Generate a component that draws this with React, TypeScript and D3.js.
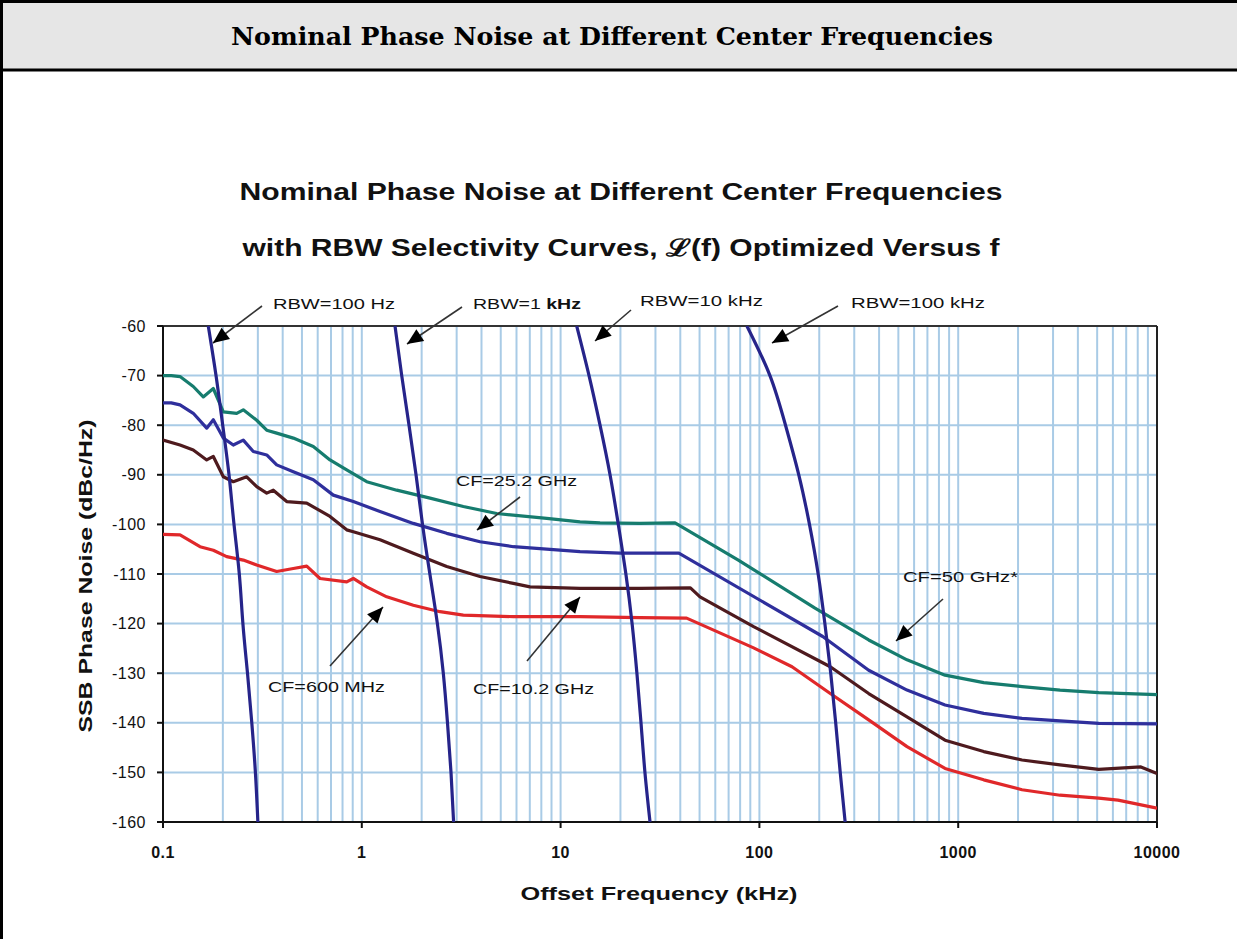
import React from 'react';
import * as d3 from 'd3';

// ---------- DATA ----------
const X_TICK_VALUES = [0.1, 1, 10, 100, 1000, 10000];
const X_TICK_LABELS = ['0.1', '1', '10', '100', '1000', '10000'];
const Y_TICK_VALUES = [-60, -70, -80, -90, -100, -110, -120, -130, -140, -150, -160];
const Y_TICK_LABELS = ['-60', '-70', '-80', '-90', '-100', '-110', '-120', '-130', '-140', '-150', '-160'];

// [offset frequency kHz, dBc/Hz]
const CF_50GHZ: [number, number][] = [
  [0.1, -70], [0.11, -70], [0.1218, -70.2], [0.142, -72.2], [0.1594, -74.3], [0.1791, -72.6],
  [0.2011, -77.3], [0.2348, -77.6], [0.2534, -76.9], [0.296, -79], [0.3324, -81], [0.3731, -81.6],
  [0.4523, -82.6], [0.5702, -84.3], [0.6918, -87], [0.8395, -89], [1.0585, -91.4], [1.4985, -93.1],
  [2.203, -94.7], [3.241, -96.4], [4.771, -97.8], [8.514, -98.8], [12.52, -99.5], [15.79, -99.7],
  [25, -99.8], [37.63, -99.7], [78.33, -107.2], [190.4, -116.9], [354.6, -123.3], [552.7, -127.3],
  [858.5, -130.4], [1344, -131.9], [2094, -132.7], [3252, -133.4], [5091, -133.9], [10000, -134.3],
];
const CF_25GHZ: [number, number][] = [
  [0.1, -75.5], [0.11, -75.5], [0.1218, -75.9], [0.142, -77.6], [0.1659, -80.6], [0.1791, -78.9],
  [0.2011, -82.6], [0.2257, -84], [0.2534, -83], [0.2846, -85.3], [0.3324, -86], [0.3731, -88],
  [0.4523, -89.4], [0.5702, -91], [0.7188, -94.1], [0.9063, -95.4], [1.235, -97.4], [1.8159, -99.8],
  [2.674, -101.8], [3.932, -103.5], [5.783, -104.5], [12.52, -105.5], [20, -105.8], [39.32, -105.8],
  [208.2, -122.6], [354.6, -129.4], [552.7, -133.4], [858.5, -136.4], [1344, -138.1], [2094, -139.1],
  [3252, -139.6], [5091, -140.1], [10000, -140.2],
];
const CF_10GHZ: [number, number][] = [
  [0.1, -83], [0.1218, -84], [0.142, -85], [0.1659, -87], [0.1791, -86.3], [0.2011, -90.4],
  [0.2257, -91.4], [0.2636, -90.4], [0.296, -92.4], [0.3324, -93.7], [0.3587, -93.1], [0.419, -95.4],
  [0.5284, -95.7], [0.6918, -98.4], [0.8395, -101.1], [0.9063, -101.5], [1.235, -103.1], [1.8159, -105.8],
  [2.674, -108.5], [3.932, -110.5], [5.783, -111.9], [7.018, -112.6], [12.52, -112.9], [25, -112.9],
  [44.97, -112.8], [50.25, -114.6], [93.5, -120.6], [227.3, -128.7], [354.6, -134.1], [552.7, -138.8],
  [858.5, -143.5], [1344, -145.8], [2094, -147.5], [3252, -148.5], [5091, -149.4], [8299, -148.9],
  [10000, -150.2],
];
const CF_600MHZ: [number, number][] = [
  [0.1, -102], [0.1218, -102.1], [0.1535, -104.5], [0.1791, -105.2], [0.2091, -106.5], [0.2534, -107.2],
  [0.296, -108.2], [0.3731, -109.5], [0.4523, -108.9], [0.5284, -108.4], [0.6163, -110.9], [0.8395, -111.6],
  [0.9063, -110.9], [1.0585, -112.6], [1.3347, -114.6], [1.8159, -116.3], [2.474, -117.6], [3.241, -118.3],
  [5.783, -118.6], [12.52, -118.6], [25, -118.8], [43.04, -118.9], [93.5, -124.9],
  [145.9, -128.7], [227.3, -134.1], [354.6, -139.4], [552.7, -144.8], [858.5, -149.2], [1344, -151.5],
  [2094, -153.5], [3252, -154.6], [5091, -155.2], [6365, -155.6], [10000, -157.2],
];

const RBW_100HZ: [number, number][] = [
  [0.169, -60], [0.1848, -70], [0.1997, -80], [0.2148, -90], [0.2276, -100], [0.242, -110],
  [0.2523, -120], [0.2661, -130], [0.2797, -140], [0.2916, -150], [0.3001, -160],
];
const RBW_1KHZ: [number, number][] = [
  [1.469, -60], [1.588, -70], [1.728, -80], [1.874, -90], [2.02, -100], [2.2, -110],
  [2.4, -120], [2.57, -130], [2.698, -140], [2.81, -150], [2.896, -160],
];
const RBW_10KHZ: [number, number][] = [
  [12.05, -60], [13.9, -70], [15.79, -80], [17.73, -90], [19.51, -100], [21.3, -110],
  [22.89, -120], [24.2, -130], [25.38, -140], [26.56, -150], [28.17, -160],
];
const RBW_100KHZ: [number, number][] = [
  [86.5, -60], [113, -70], [135.3, -80], [157.8, -90], [178.6, -100], [197.5, -110],
  [213.5, -120], [228.5, -130], [242, -140], [255, -150], [270, -160],
];

const CF_SERIES = [
  { name: 'CF=50 GHz*', data: CF_50GHZ, color: '#167c6e' },
  { name: 'CF=25.2 GHz', data: CF_25GHZ, color: '#2f2f9c' },
  { name: 'CF=10.2 GHz', data: CF_10GHZ, color: '#4e1a1e' },
  { name: 'CF=600 MHz', data: CF_600MHZ, color: '#e0282a' },
];
const RBW_SERIES = [RBW_100HZ, RBW_1KHZ, RBW_10KHZ, RBW_100KHZ];

// ---------- LAYOUT ----------
const W = 1237;
const H = 939;
const PLOT = { left: 163, right: 1157, top: 326, bottom: 822 };

const ANNOTATIONS = [
  { text: ['RBW=100 Hz'], lx: 273, ly: 304, len: 122, from: [262, 306], tip: [213, 343] },
  { text: ['RBW=1 ', 'kHz'], lx: 473, ly: 304, len: 108, from: [462, 307], tip: [407, 344] },
  { text: ['RBW=10 kHz'], lx: 640, ly: 301, len: 123, from: [631, 310], tip: [595, 341] },
  { text: ['RBW=100 kHz'], lx: 851, ly: 303, len: 134, from: [838, 306], tip: [772, 343] },
  { text: ['CF=25.2 GHz'], lx: 456, ly: 481, len: 121, from: [520, 497], tip: [477, 530] },
  { text: ['CF=50 GHz*'], lx: 903, ly: 577, len: 115, from: [943, 599], tip: [896, 641] },
  { text: ['CF=600 MHz'], lx: 268, ly: 687, len: 117, from: [330, 666], tip: [383, 607] },
  { text: ['CF=10.2 GHz'], lx: 473, ly: 689, len: 121, from: [527, 661], tip: [580, 597] },
];

const SANS = 'Arial, "Liberation Sans", Helvetica, sans-serif';

export default function App() {
  const x = d3.scaleLog().domain([0.1, 10000]).range([PLOT.left, PLOT.right]);
  const y = d3.scaleLinear().domain([-160, -60]).range([PLOT.bottom, PLOT.top]);

  const cfLine = d3
    .line<[number, number]>()
    .x((d) => x(d[0]))
    .y((d) => y(d[1]))
    .curve(d3.curveLinear);
  const rbwLine = d3
    .line<[number, number]>()
    .x((d) => x(d[0]))
    .y((d) => y(d[1]))
    .curve(d3.curveNatural);

  const minorX = x.ticks();

  const arrowHead = (from: number[], tip: number[]) => {
    const dx = tip[0] - from[0];
    const dy = tip[1] - from[1];
    const l = Math.hypot(dx, dy);
    const ux = dx / l, uy = dy / l;
    const len = 16, hw = 7;
    const bx = tip[0] - ux * len, by = tip[1] - uy * len;
    return `${tip[0]},${tip[1]} ${bx - uy * hw},${by + ux * hw} ${bx + uy * hw},${by - ux * hw}`;
  };

  return (
    <svg
      width={W}
      height={H}
      viewBox={`0 0 ${W} ${H}`}
      style={{ position: 'absolute', left: 0, top: 0, background: '#fff' }}
    >
      {/* Header */}
      <rect x={0} y={0} width={W} height={70} fill="#e6e6e6" />
      <line x1={0} x2={W} y1={1.5} y2={1.5} stroke="#000" strokeWidth={3} />
      <line x1={0} x2={W} y1={70} y2={70} stroke="#000" strokeWidth={3} />
      <line x1={1.5} x2={1.5} y1={0} y2={H} stroke="#000" strokeWidth={3} />
      <text
        x={612}
        y={45}
        textAnchor="middle"
        fontFamily='"DejaVu Serif", "Liberation Serif", serif'
        fontWeight="bold"
        fontSize={25}
        textLength={762}
        lengthAdjust="spacingAndGlyphs"
        fill="#000"
      >
        Nominal Phase Noise at Different Center Frequencies
      </text>

      {/* Chart titles */}
      <text x={621} y={200} textAnchor="middle" fontFamily={SANS} fontWeight="bold" fontSize={24}
        textLength={763} lengthAdjust="spacingAndGlyphs" fill="#111">
        Nominal Phase Noise at Different Center Frequencies
      </text>
      <text x={621} y={256} textAnchor="middle" fontFamily={SANS} fontWeight="bold" fontSize={24}
        textLength={757} lengthAdjust="spacingAndGlyphs" fill="#111">
        with RBW Selectivity Curves, ℒ(f) Optimized Versus f
      </text>

      {/* Grid */}
      <g>
        {minorX.map((v, i) => (
          <line key={'gx' + i} x1={x(v)} x2={x(v)} y1={PLOT.top} y2={PLOT.bottom}
            stroke="#a9cbe6" strokeWidth={2} />
        ))}
        {Y_TICK_VALUES.map((v, i) => (
          <line key={'gy' + i} x1={PLOT.left} x2={PLOT.right} y1={y(v)} y2={y(v)}
            stroke="#a9cbe6" strokeWidth={2} />
        ))}
      </g>

      {/* Frame */}
      <line x1={PLOT.left} x2={PLOT.right} y1={PLOT.top} y2={PLOT.top} stroke="#333" strokeWidth={2} />
      <line x1={PLOT.right} x2={PLOT.right} y1={PLOT.top} y2={PLOT.bottom + 6} stroke="#222" strokeWidth={2} />
      <line x1={PLOT.left} x2={PLOT.left} y1={PLOT.top} y2={PLOT.bottom} stroke="#111" strokeWidth={2} />
      <line x1={PLOT.left} x2={PLOT.right} y1={PLOT.bottom} y2={PLOT.bottom} stroke="#111" strokeWidth={2} />

      {/* Y ticks + labels */}
      {Y_TICK_VALUES.map((v, i) => (
        <g key={'yt' + i}>
          <line x1={PLOT.left - 6} x2={PLOT.left} y1={y(v)} y2={y(v)} stroke="#111" strokeWidth={2} />
          <text x={146} y={y(v)} dy="0.35em" textAnchor="end" fontFamily={SANS} fontSize={16}
            letterSpacing={0.5} fill="#111">
            {Y_TICK_LABELS[i]}
          </text>
        </g>
      ))}

      {/* X ticks + labels */}
      {X_TICK_VALUES.map((v, i) => (
        <g key={'xt' + i}>
          <line x1={x(v)} x2={x(v)} y1={PLOT.bottom} y2={PLOT.bottom + 6} stroke="#111" strokeWidth={2} />
          <text x={x(v)} y={858} textAnchor="middle" fontFamily={SANS} fontWeight="bold" fontSize={16}
            letterSpacing={0.5} fill="#111">
            {X_TICK_LABELS[i]}
          </text>
        </g>
      ))}

      {/* Axis titles */}
      <text x={659} y={900} textAnchor="middle" fontFamily={SANS} fontWeight="bold" fontSize={19}
        textLength={277} lengthAdjust="spacingAndGlyphs" fill="#111">
        Offset Frequency (kHz)
      </text>
      <text transform="translate(92,576) rotate(-90)" textAnchor="middle" fontFamily={SANS}
        fontWeight="bold" fontSize={19} textLength={313} lengthAdjust="spacingAndGlyphs" fill="#111">
        SSB Phase Noise (dBc/Hz)
      </text>

      {/* Curves */}
      <defs>
        <clipPath id="plotClip">
          <rect x={PLOT.left} y={PLOT.top} width={PLOT.right - PLOT.left} height={PLOT.bottom - PLOT.top} />
        </clipPath>
      </defs>
      <g clipPath="url(#plotClip)">
        {CF_SERIES.map((s) => (
          <path key={s.name} d={cfLine(s.data) || ''} fill="none" stroke={s.color} strokeWidth={3.2}
            strokeLinejoin="round" strokeLinecap="round" />
        ))}
        {RBW_SERIES.map((s, i) => (
          <path key={'rbw' + i} d={rbwLine(s) || ''} fill="none" stroke="#26248a" strokeWidth={3.2}
            strokeLinejoin="round" />
        ))}
      </g>

      {/* Annotations */}
      {ANNOTATIONS.map((a, i) => (
        <g key={'ann' + i}>
          <line x1={a.from[0]} y1={a.from[1]} x2={a.tip[0]} y2={a.tip[1]} stroke="#333" strokeWidth={1.6} />
          <polygon points={arrowHead(a.from, a.tip)} fill="#000" />
          <text x={a.lx} y={a.ly} dy="0.35em" fontFamily={SANS} fontSize={15} textLength={a.len}
            lengthAdjust="spacingAndGlyphs" fill="#111">
            {a.text.length === 1 ? a.text[0] : (
              <>
                <tspan>{a.text[0]}</tspan>
                <tspan fontWeight="bold">{a.text[1]}</tspan>
              </>
            )}
          </text>
        </g>
      ))}
    </svg>
  );
}
